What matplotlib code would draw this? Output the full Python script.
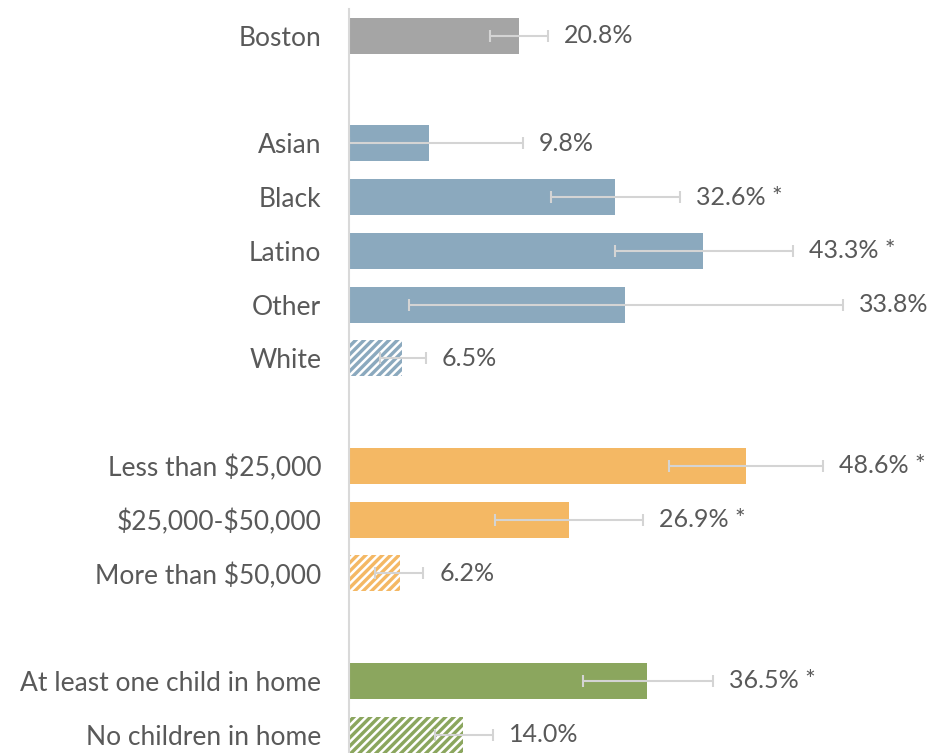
import matplotlib
matplotlib.use("Agg")
import matplotlib.pyplot as plt

categories = ["Boston", "Asian", "Black", "Latino", "Other", "White",
              "Less than \\$25,000", "\\$25,000-\\$50,000", "More than \\$50,000",
              "At least one child in home", "No children in home"]
slots = [0, 2, 3, 4, 5, 6, 8, 9, 10, 12, 13]
values = [20.8, 9.8, 32.6, 43.3, 33.8, 6.5, 48.6, 26.9, 6.2, 36.5, 14.0]
ci_low = [17.3, 0.0, 24.7, 32.6, 7.3, 3.8, 39.2, 17.9, 3.2, 28.6, 10.5]
ci_high = [24.4, 21.3, 40.5, 54.3, 60.5, 9.4, 58.0, 36.0, 9.1, 44.6, 17.6]
significant = [False, False, True, True, False, False, True, True, False, True, False]
reference_group = [False, False, False, False, False, True, False, False, True, False, True]
groups = ["all", "race", "race", "race", "race", "race",
          "income", "income", "income", "children", "children"]

group_colors = {"all": "#A5A5A5", "race": "#8BA9BE", "income": "#F4B864", "children": "#8BA65E"}
text_color = "#595959"

plt.rcParams["font.family"] = ["Lato", "DejaVu Sans"]
plt.rcParams["hatch.linewidth"] = 1.8

fig = plt.figure(figsize=(9.3, 7.53), dpi=100)
ax = fig.add_axes([349 / 930, 0, 1 - 349 / 930, (753 - 9) / 753])

for s, v, g, ref in zip(slots, values, groups, reference_group):
    c = group_colors[g]
    if ref:
        ax.barh(s, v, height=0.67, color=c, edgecolor="white", hatch="////", linewidth=0)
    else:
        ax.barh(s, v, height=0.67, color=c, linewidth=0)

xerr_lo = [v - lo for v, lo in zip(values, ci_low)]
xerr_hi = [hi - v for v, hi in zip(values, ci_high)]
ax.errorbar(values, slots, xerr=[xerr_lo, xerr_hi], fmt="none", ecolor="#D4D4D4",
            elinewidth=1.5, capsize=4.3, capthick=1.5)

for s, v, hi, sig in zip(slots, values, ci_high, significant):
    label = f"{v:.1f}%" + (" *" if sig else "")
    ax.annotate(label, xy=(hi, s), xytext=(16 * 0.72, 0), textcoords="offset points",
                va="center", ha="left", fontsize=18, color=text_color)

ax.set_yticks(slots)
ax.set_yticklabels(categories, fontsize=19, color=text_color)
ax.tick_params(axis="y", length=0, pad=20)
ax.set_xticks([])
ax.set_xlim(0, (930 - 349) / 8.17)
ax.set_ylim((753 - 36) / 53.75, -0.5)
for sp in ["top", "right", "bottom"]:
    ax.spines[sp].set_visible(False)
ax.spines["left"].set_color("#D9D9D9")
ax.spines["left"].set_linewidth(1.5)

fig.savefig("out.png", dpi=100)
